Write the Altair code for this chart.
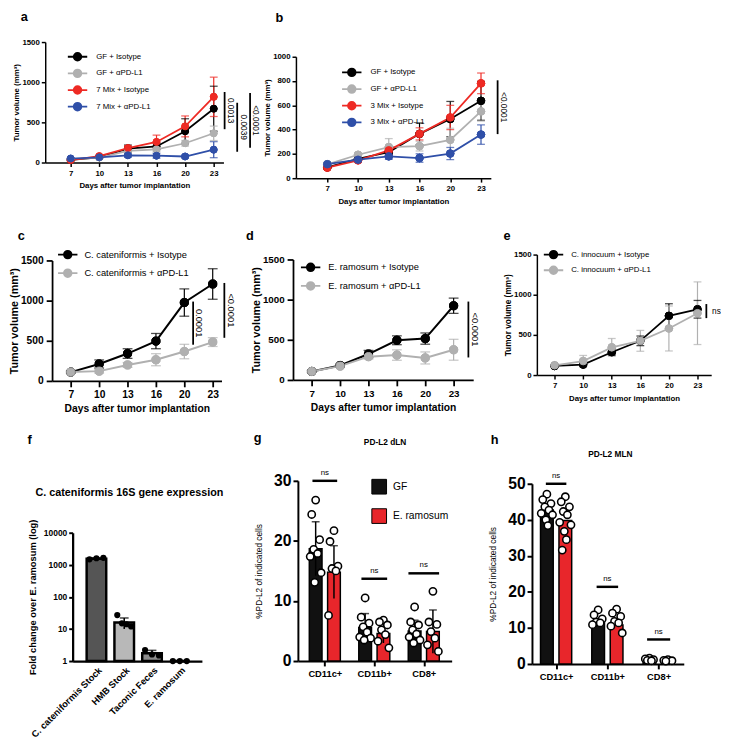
import altair as alt
import pandas as pd

FONT = "Liberation Sans"

# ---------------- data ----------------
days = [7, 10, 13, 16, 20, 23]

a_groups = ["GF + Isotype", "GF + αPD-L1", "7 Mix + Isotype", "7 Mix + αPD-L1"]
a_means = [[33, 65, 173, 200, 390, 670],
           [41, 62, 145, 165, 240, 364],
           [30, 80, 180, 256, 450, 818],
           [50, 65, 90, 85, 75, 160]]
a_sds = [[10, 15, 45, 40, 155, 280],
         [8, 12, 20, 30, 35, 90],
         [8, 15, 30, 85, 130, 245],
         [10, 15, 25, 30, 20, 100]]
a_sig_text = ["0.0013", "0.0039", "<0.0001"]
a_sig_lo = [415, 134, 183]
a_sig_hi = [878, 744, 866]

b_groups = ["GF + Isotype", "GF + αPD-L1", "3 Mix + Isotype", "3 Mix + αPD-L1"]
b_means = [[90, 160, 215, 365, 487, 637],
           [114, 193, 256, 264, 316, 550],
           [87, 147, 229, 365, 500, 781],
           [115, 152, 180, 166, 203, 359]]
b_sds = [[10, 15, 20, 90, 145, 160],
         [10, 15, 70, 40, 95, 80],
         [10, 15, 30, 50, 100, 85],
         [10, 15, 25, 35, 50, 80]]
b_sig_text = ["<0.0001"]
b_sig_lo = [363]
b_sig_hi = [806]

c_groups = ["C. cateniformis + Isotype", "C. cateniformis + αPD-L1"]
c_means = [[110, 211, 341, 496, 976, 1207],
           [110, 122, 199, 264, 366, 484]]
c_sds = [[10, 50, 60, 95, 170, 190],
         [10, 25, 30, 75, 90, 55]]
c_sig_text = ["0.0001", "<0.0001"]
c_sig_lo = [451, 537]
c_sig_hi = [988, 1220]

d_groups = ["E. ramosum + Isotype", "E. ramosum + αPD-L1"]
d_means = [[106, 180, 323, 494, 515, 924],
           [106, 172, 290, 310, 274, 376]]
d_sds = [[10, 15, 45, 55, 70, 95],
         [10, 15, 30, 65, 75, 130]]
d_sig_text = ["<0.0001"]
d_sig_lo = [280]
d_sig_hi = [976]

e_groups = ["C. innocuum + Isotype", "C. innocuum + αPD-L1"]
e_means = [[113, 130, 284, 426, 738, 819],
           [122, 174, 345, 426, 580, 770]]
e_sds = [[10, 20, 40, 60, 150, 110],
         [10, 70, 110, 130, 280, 390]]
e_sig_text = ["ns"]
e_sig_lo = [709]
e_sig_hi = [884]

f_cats = ["C. cateniformis Stock", "HMB Stock", "Taconic Feces", "E. ramosum"]
f_means = [1550, 16, 1.75, 1.0]
f_sds = [100, 6, 0.4, 0]
f_points = [[1480, 1600, 1650], [27, 15, 14, 12], [2.2, 1.6, 1.5], [1, 1, 1]]
f_fills = ["#555555", "#b8b8b8", "#8c8c8c", "#ffffff"]
f_heading = "C. cateniformis 16S gene expression"

cell_types = ["CD11c+", "CD11b+", "CD8+"]
conds = ["GF", "E. ramosum"]
g_gf_mean = [18.7, 5.6, 5.0]
g_gf_sd = [4.5, 2.3, 1.8]
g_er_mean = [14.8, 4.6, 4.9]
g_er_sd = [4.4, 1.6, 3.6]
g_gf_pts = [[26.8, 24.4, 20.2, 18.6, 17.9, 17.4, 14.7, 13.1],
            [10.5, 7.3, 6.3, 5.7, 4.8, 4.0, 3.8, 3.5],
            [9.0, 6.5, 6.0, 5.2, 4.5, 4.0, 3.5, 3.0]]
g_er_pts = [[21.7, 19.9, 15.8, 15.4, 15.0, 7.6],
            [6.8, 6.5, 6.0, 5.2, 4.4, 3.3, 2.2],
            [11.6, 6.5, 6.1, 4.9, 3.8, 2.7, 1.6]]
g_ns_y = [30.0, 13.7, 14.6]

h_gf_mean = [42.7, 11.8, 1.2]
h_er_mean = [39.8, 10.8, 1.0]
h_gf_pts = [[47.1, 45.6, 44.5, 43.6, 42.7, 41.8, 41.4, 40.0, 38.4],
            [15.0, 13.6, 12.5, 11.6, 11.4, 10.9],
            [1.6, 1.4, 1.2, 1.0, 0.9]]
h_er_pts = [[46.4, 45.0, 43.6, 42.3, 41.4, 39.3, 38.6, 36.8, 34.5, 31.6],
            [15.2, 14.1, 13.2, 11.8, 11.4, 10.5, 8.6],
            [1.2, 1.0, 0.9, 0.8]]
h_ns_y = [50.0, 21.4, 6.8]

LINE_COLORS4 = ["#000000", "#b0b0b0", "#ee2a24", "#2f4fa8"]
LINE_COLORS2 = ["#000000", "#b0b0b0"]
BAR_COLORS = ["#111111", "#e8262b"]

DAY_EXPR = "[" + ",".join("'%d'" % d for d in days) + "][datum.value]"
LEG_PATH = "M-1.65,0H1.65M0.65,0A0.65,0.65,0,1,1,-0.65,0A0.65,0.65,0,1,1,0.65,0Z"
JIT = [0, -0.16, 0.16, -0.08, 0.08, -0.22, 0.22, -0.04, 0.04, -0.12]
NO_FRAME = alt.ViewBackground(stroke="transparent", strokeWidth=0, fill="transparent")


def note(text, x, y, size, weight="bold", align="left", baseline="alphabetic"):
    return alt.Chart(pd.DataFrame({"t": [text]})).mark_text(
        fontSize=size, fontWeight=weight, font=FONT, color="black", align=align,
        baseline=baseline).encode(x=alt.value(x), y=alt.value(y), text="t:N")


def growth_panel(groups, colors, means, sds, sig_text, sig_lo, sig_hi, c):
    rows = []
    for g, ml, sl in zip(groups, means, sds):
        for i, (m, s) in enumerate(zip(ml, sl)):
            rows.append({"group": g, "idx": i, "mean": m, "lo": max(m - s, 0), "hi": m + s})
    df = pd.DataFrame(rows)
    H = c["h"] + c["dy"]
    yvals = list(range(0, c["ymax"] + 1, c["ystep"]))
    xsc = alt.Scale(domain=c["xdom"], nice=False, zero=False)
    ysc = alt.Scale(domain=[0, c["ymax"]], range=[H, c["dy"]], nice=False)
    xax = alt.Axis(values=list(range(len(days))), tickCount=len(days), labelExpr=DAY_EXPR,
                   title="Days after tumor implantation", labelFontSize=c["fl"],
                   titleFontSize=c["ftx"], labelFontWeight="bold", titleFontWeight="bold",
                   tickSize=c["tick"], labelPadding=c["xlp"], titlePadding=c["xtp"],
                   domainWidth=c["dw"], tickWidth=c["dw"], labelOverlap=False,
                   labelFlush=False, grid=False, labelAngle=0)
    yax = alt.Axis(values=yvals, tickCount=len(yvals), format="d",
                   title="Tumor volume (mm³)", labelFontSize=c["fl"], titleFontSize=c["fty"],
                   labelFontWeight="bold", titleFontWeight="bold", tickSize=c["tick"],
                   labelPadding=c["ylp"], titlePadding=c["ytp"], domainWidth=c["dw"],
                   tickWidth=c["dw"], labelOverlap=False, grid=False)
    cs = alt.Scale(domain=groups, range=colors)
    # same mapping, listed in reverse so the line colours keep a scale of their own
    cs_lines = alt.Scale(domain=groups[::-1], range=colors[::-1])
    leg = alt.Legend(orient="none", legendX=c["lx"], legendY=c["ly"], title=None,
                     symbolType=LEG_PATH, symbolSize=144, symbolStrokeWidth=1.8,
                     labelFontSize=c["lfs"], labelFont=FONT, labelColor="black",
                     rowPadding=c["lrp"], labelOffset=c["lo"], padding=0)
    base = alt.Chart(df)
    X = alt.X("idx:Q", scale=xsc, axis=xax)
    col = alt.Color("group:N", scale=cs_lines, legend=None)
    err = base.mark_rule(strokeWidth=1.2).encode(
        x=X, y=alt.Y("lo:Q", scale=ysc, axis=yax), y2="hi:Q", color=col)
    cap_hi = base.mark_tick(orient="horizontal", size=c["cap"], thickness=1.3).encode(
        x="idx:Q", y="hi:Q", color=col)
    cap_lo = base.mark_tick(orient="horizontal", size=c["cap"], thickness=1.3).encode(
        x="idx:Q", y="lo:Q", color=col)
    line = base.mark_line(strokeWidth=c["lw"]).encode(
        x="idx:Q", y="mean:Q", detail="group:N", color=col)
    pts = base.mark_point(filled=True, size=c["ps"], opacity=1, strokeWidth=1).encode(
        x="idx:Q", y="mean:Q",
        fill=alt.Fill("group:N", scale=cs, legend=leg),
        stroke=alt.Stroke("group:N", scale=cs, legend=leg))
    sdf = pd.DataFrame({"x": c["sx"], "lo": sig_lo, "hi": sig_hi, "label": sig_text,
                        "tx": [v + c["sdx"] for v in c["sx"]],
                        "ty": [(l + h) / 2 for l, h in zip(sig_lo, sig_hi)]})
    srule = alt.Chart(sdf).mark_rule(strokeWidth=1.8, color="black").encode(
        x="x:Q", y="lo:Q", y2="hi:Q")
    stext = alt.Chart(sdf).mark_text(angle=c["sang"], fontSize=c["sfs"], font=FONT,
                                     align=c["salign"], baseline="middle", color="black").encode(
        x="tx:Q", y="ty:Q", text="label:N")
    letter = note(c["letter"], c["lpx"], c["lpy"], 13)
    return alt.layer(pts, err, cap_hi, cap_lo, line, pts, srule, stext, letter).properties(
        width=c["w"], height=H, view=NO_FRAME)


base_cfg = dict(fl=8, ftx=8, fty=8, tick=4, xlp=3, ylp=2, xtp=5, ytp=1, dw=1.5,
                lfs=8, lrp=1, lo=12, cap=8, lw=1.8, ps=50, sfs=8.5, sdx=0.22,
                sang=90, salign="center", dy=0)

cfg_a = dict(base_cfg, w=182, h=123, dy=35, xdom=[-0.89, 5.34], ymax=1500, ystep=500,
             lx=26, ly=43, sx=[5.38, 5.82, 6.27], letter="a", lpx=-25, lpy=14)
cfg_b = dict(base_cfg, w=199, h=124, dy=50, xdom=[-1.02, 5.32], ymax=1000, ystep=200,
             lx=50, ly=59, sx=[5.54], ps=60, letter="b", lpx=-21, lpy=15)
cfg_c = dict(base_cfg, w=173, h=123, dy=33, xdom=[-0.66, 5.31], ymax=1500, ystep=500,
             fl=10.5, ftx=10.5, fty=11, tick=6, ylp=3, xtp=4, ytp=1, dw=1.8,
             lfs=9.5, lrp=3, lo=10, cap=10, lw=2, ps=70, sfs=9.5,
             lx=9, ly=20, sx=[4.31, 5.41], letter="c", lpx=-35, lpy=12)
cfg_d = dict(base_cfg, w=184, h=123, dy=32, xdom=[-0.66, 5.69], ymax=1500, ystep=500,
             fl=10, ftx=10.5, fty=11, tick=6, ylp=3, xtp=4, ytp=1, dw=1.8,
             lfs=9.5, lrp=3, lo=11, cap=10, lw=2, ps=70, sfs=9.5,
             lx=11, ly=33, sx=[5.52], letter="d", lpx=-48, lpy=12)
cfg_e = dict(base_cfg, w=178, h=123, dy=27, xdom=[-0.62, 5.48], ymax=1500, ystep=500,
             fty=8.5, lrp=0, lo=11, ps=60, lx=10, ly=20, sx=[5.31], sdx=0.2,
             sang=0, salign="left", letter="e", lpx=-34, lpy=12)

chart_a = growth_panel(a_groups, LINE_COLORS4, a_means, a_sds, a_sig_text, a_sig_lo, a_sig_hi, cfg_a)
chart_b = growth_panel(b_groups, LINE_COLORS4, b_means, b_sds, b_sig_text, b_sig_lo, b_sig_hi, cfg_b)
chart_c = growth_panel(c_groups, LINE_COLORS2, c_means, c_sds, c_sig_text, c_sig_lo, c_sig_hi, cfg_c)
chart_d = growth_panel(d_groups, LINE_COLORS2, d_means, d_sds, d_sig_text, d_sig_lo, d_sig_hi, cfg_d)
chart_e = growth_panel(e_groups, LINE_COLORS2, e_means, e_sds, e_sig_text, e_sig_lo, e_sig_hi, cfg_e)

# ---------------- panel f ----------------
F_DY = 105
F_H = 131
fb = pd.DataFrame({"cat": f_cats, "i": list(range(len(f_cats))), "mean": f_means,
                   "base": [1] * len(f_cats),
                   "lo": [m - s for m, s in zip(f_means, f_sds)],
                   "hi": [m + s for m, s in zip(f_means, f_sds)], "sd": f_sds})
fp_rows = []
for i, pts in enumerate(f_points):
    n = len(pts)
    for j, v in enumerate(pts):
        off = 0 if n == 1 else -0.25 + 0.5 * j / (n - 1)
        fp_rows.append({"x": i + off, "v": v})
fp = pd.DataFrame(fp_rows)
F_EXPR = "[" + ",".join("'%s'" % s for s in f_cats) + "][datum.value]"
fxs = alt.Scale(domain=[-0.68, 3.62], nice=False, zero=False)
fys = alt.Scale(type="log", domain=[1, 10000], range=[F_H + F_DY, F_DY], nice=False)
fxax = alt.Axis(values=[0, 1, 2, 3], tickCount=4, labelExpr=F_EXPR, title=None, labelAngle=-45,
                labelFontSize=9.5, labelFontWeight="bold", ticks=False, labelPadding=4,
                domainWidth=2.3, labelOverlap=False, labelFlush=False, grid=False)
fyax = alt.Axis(values=[1, 10, 100, 1000, 10000], tickCount=5, format="d",
                title="Fold change over E. ramosum (log)", labelFontSize=8.6,
                labelFontWeight="bold", titleFontSize=9.5, titleFontWeight="bold",
                tickSize=4, tickWidth=2, domainWidth=2.3, labelPadding=2, titlePadding=6,
                grid=False, labelOverlap=False)
f_bar = alt.Chart(fb).mark_bar(orient="vertical", size=20, stroke="black", strokeWidth=2.5).encode(
    x=alt.X("i:Q", scale=fxs, axis=fxax), y=alt.Y("mean:Q", scale=fys, axis=fyax), y2="base:Q",
    fill=alt.Fill("cat:N", scale=alt.Scale(domain=f_cats, range=f_fills), legend=None))
fbe = fb[fb["sd"] > 0]
f_err = alt.Chart(fbe).mark_rule(strokeWidth=1.6, color="black").encode(x="i:Q", y="lo:Q", y2="hi:Q")
f_cap = alt.Chart(fbe).mark_tick(orient="horizontal", size=9, thickness=1.6, color="black").encode(
    x="i:Q", y="hi:Q")
f_pts = alt.Chart(fp).mark_circle(size=40, color="black", opacity=1).encode(x="x:Q", y="v:Q")
chart_f = alt.layer(f_bar, f_err, f_cap, f_pts,
                    note(f_heading, 58, 64, 11, align="center", baseline="middle"),
                    note("f", -46, 14, 13)).properties(width=132, height=F_H + F_DY, view=NO_FRAME)


# ---------------- panels g / h ----------------
def pd_panel(gf_mean, er_mean, gf_sd, er_sd, gf_pts, er_pts, ns_y, c):
    off = c["off"]
    H = c["h"] + c["dy"]
    brows = []
    for k in range(len(cell_types)):
        cx = 2 * k + 1
        brows.append({"cond": "GF", "x": cx - off, "mean": gf_mean[k]})
        brows.append({"cond": "E. ramosum", "x": cx + off, "mean": er_mean[k]})
    bdf = pd.DataFrame(brows)
    erows = []
    if gf_sd is not None:
        for k in range(len(cell_types)):
            cx = 2 * k + 1
            erows.append({"x": cx - off, "lo": gf_mean[k] - gf_sd[k], "hi": gf_mean[k] + gf_sd[k]})
            erows.append({"x": cx + off, "lo": er_mean[k] - er_sd[k], "hi": er_mean[k] + er_sd[k]})
    edf = pd.DataFrame(erows)
    prow = []
    for k in range(len(cell_types)):
        cx = 2 * k + 1
        for j, v in enumerate(gf_pts[k]):
            prow.append({"x": cx - off + JIT[j % len(JIT)] * c["jit"], "v": v})
        for j, v in enumerate(er_pts[k]):
            prow.append({"x": cx + off + JIT[j % len(JIT)] * c["jit"], "v": v})
    pdf = pd.DataFrame(prow)
    nsdf = pd.DataFrame({"x1": [2 * k + 1 - c["nsw"][k] for k in range(3)],
                         "x2": [2 * k + 1 + c["nsw"][k] for k in range(3)],
                         "xc": [2 * k + 1 for k in range(3)], "y": ns_y, "t": ["ns"] * 3})
    yvals = list(range(0, c["ymax"] + 1, 10))
    xs = alt.Scale(domain=c["xdom"], nice=False, zero=False)
    ys = alt.Scale(domain=[0, c["ymax"]], range=[H, c["dy"]], nice=False)
    xexpr = "[" + ",".join("'%s'" % s for s in cell_types) + "][(datum.value-1)/2]"
    xax = alt.Axis(values=[1, 3, 5], tickCount=3, labelExpr=xexpr, title=None, labelFontSize=9.5,
                   labelFontWeight="bold", tickSize=5, tickWidth=2, domainWidth=2,
                   labelPadding=3, labelOverlap=False, labelFlush=False, grid=False, labelAngle=0)
    yax = alt.Axis(values=yvals, tickCount=len(yvals), title="%PD-L2 of indicated cells",
                   labelFontSize=16, labelFontWeight="bold", titleFontSize=8.5,
                   titleFontWeight="normal", tickSize=5, tickWidth=2, domainWidth=2,
                   labelPadding=2, titlePadding=c["ytp"], grid=False, labelOverlap=False)
    if c["legend"]:
        leg = alt.Legend(orient="none", legendX=c["lx"], legendY=c["ly"], title=None,
                         symbolType="square", symbolSize=225, symbolStrokeColor="black",
                         symbolStrokeWidth=1, labelFontSize=10.5, labelFont=FONT,
                         labelColor="black", rowPadding=10, labelOffset=6, padding=0)
    else:
        leg = None
    bars = alt.Chart(bdf).mark_bar(orient="vertical", size=13, stroke="black", strokeWidth=1.5).encode(
        x=alt.X("x:Q", scale=xs, axis=xax), y=alt.Y("mean:Q", scale=ys, axis=yax),
        fill=alt.Fill("cond:N", scale=alt.Scale(domain=conds, range=BAR_COLORS), legend=leg))
    layers = [bars]
    if len(edf):
        layers.append(alt.Chart(edf).mark_rule(strokeWidth=1.5, color="black").encode(
            x="x:Q", y="lo:Q", y2="hi:Q"))
        layers.append(alt.Chart(edf).mark_tick(orient="horizontal", size=8, thickness=1.5,
                                               color="black").encode(x="x:Q", y="hi:Q"))
    layers.append(alt.Chart(pdf).mark_point(filled=True, fill="white", stroke="black",
                                            strokeWidth=1.6, size=55, opacity=1).encode(
        x="x:Q", y="v:Q"))
    layers.append(alt.Chart(nsdf).mark_rule(strokeWidth=2.5, color="black").encode(
        x="x1:Q", x2="x2:Q", y="y:Q"))
    layers.append(alt.Chart(nsdf).mark_text(fontSize=8, font=FONT, baseline="bottom", dy=-4,
                                            color="black").encode(x="xc:Q", y="y:Q", text="t:N"))
    layers.append(note(c["heading"], c["hx"], c["hy"], 8.5, align="center", baseline="middle"))
    layers.append(note(c["letter"], c["lpx"], c["lpy"], 13))
    return alt.layer(*layers).properties(width=c["w"], height=H, view=NO_FRAME)


cfg_g = dict(w=157, h=184, dy=52, xdom=[0.11, 5.93], ymax=30, off=0.37, jit=1.0,
             nsw=[0.5, 0.52, 0.62], ytp=10, legend=True, lx=75, ly=50,
             heading="PD-L2 dLN", hx=89, hy=12, letter="g", lpx=-45, lpy=12)
cfg_h = dict(w=155, h=184, dy=55, xdom=[0.25, 5.79], ymax=50, off=0.36, jit=1.0,
             nsw=[0.4, 0.42, 0.45], ytp=10, legend=False, lx=0, ly=0,
             heading="PD-L2 MLN", hx=80, hy=25, letter="h", lpx=-42, lpy=14)
chart_g = pd_panel(g_gf_mean, g_er_mean, g_gf_sd, g_er_sd, g_gf_pts, g_er_pts, g_ns_y, cfg_g)
chart_h = pd_panel(h_gf_mean, h_er_mean, None, None, h_gf_pts, h_er_pts, h_ns_y, cfg_h)


# ---------------- layout ----------------
def spacer(w):
    return alt.Chart(pd.DataFrame({"s": [0]})).mark_point(opacity=0).encode(
        x=alt.value(0), y=alt.value(0)).properties(width=w, height=1, view=NO_FRAME)


IND = dict(color="independent", fill="independent", stroke="independent",
           x="independent", y="independent")
LIND = dict(color="independent", fill="independent", stroke="independent")


def row(*items):
    return alt.hconcat(*items, spacing=0, bounds="flush").resolve_scale(**IND).resolve_legend(**LIND)


row1 = row(chart_a, spacer(74), chart_b)
row2 = row(spacer(7), chart_c, spacer(73), chart_d, spacer(65), chart_e)
row3 = row(spacer(28), chart_f, spacer(98), chart_g, spacer(82), chart_h)
lower = alt.vconcat(row2, row3, spacing=13).resolve_scale(**IND).resolve_legend(**LIND)
chart = alt.vconcat(row1, lower, spacing=20).resolve_scale(**IND).resolve_legend(**LIND).properties(
    padding={"top": -11, "left": 0, "right": 0, "bottom": 0})

chart = (chart.configure_view(strokeWidth=0, stroke="transparent")
         .configure(font=FONT)
         .configure_axis(grid=False, domainColor="black", tickColor="black", labelOverlap=False,
                         labelColor="black", titleColor="black", labelFont=FONT, titleFont=FONT)
         .configure_text(font=FONT)
         .configure_legend(labelFont=FONT, labelColor="black")
         .configure_title(font=FONT, color="black"))

chart.save("out.html", embed_options={"renderer": "svg", "actions": False})
